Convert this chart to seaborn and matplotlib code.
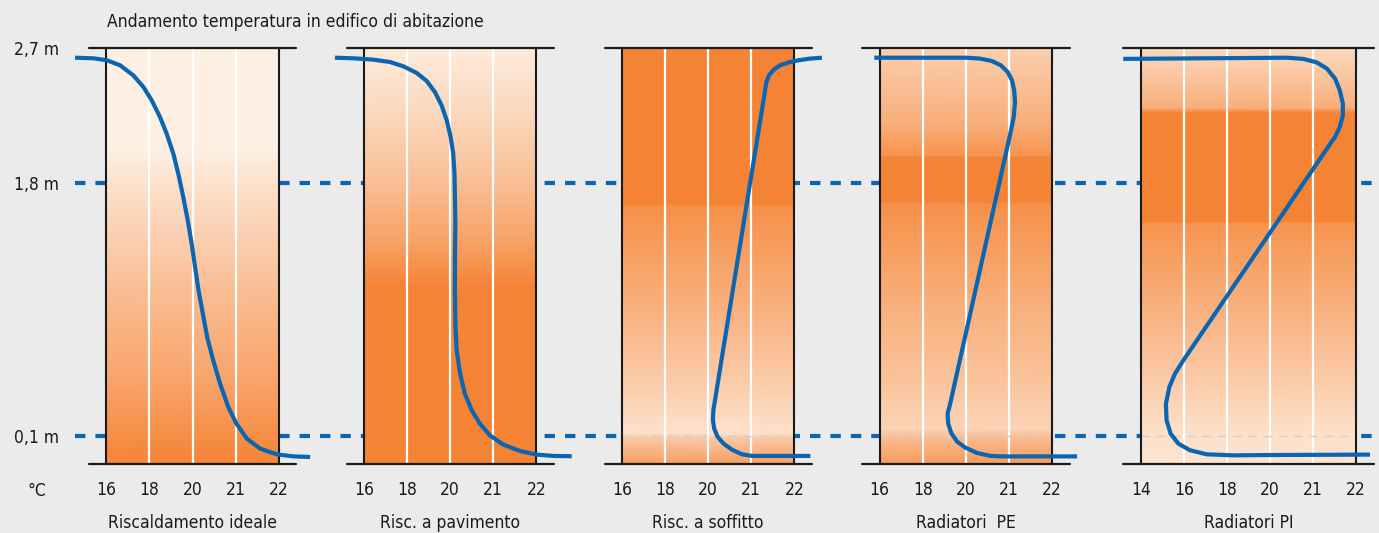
import numpy as np
import matplotlib
matplotlib.use("Agg")
import matplotlib.pyplot as plt
import seaborn as sns
from matplotlib.colors import LinearSegmentedColormap

# ---------------- data ----------------
chart_title = "Andamento temperatura in edifico di abitazione"
titles = ["Riscaldamento ideale", "Risc. a pavimento", "Risc. a soffitto",
          "Radiatori  PE", "Radiatori PI"]
ticks_std = [16, 18, 20, 21, 22]
ticks_pi = [14, 16, 18, 20, 21, 22]
height_levels = [2.7, 1.8, 0.1]
height_labels = ["2,7 m", "1,8 m", "0,1 m"]
dashed_levels = [1.8, 0.1]
unit_label = "°C"

# temperature (°C) / height (m) profiles
ideal_T = [14.55, 15.40, 16.02, 16.64, 17.25, 17.72, 18.11, 18.49, 18.80, 19.11,
           19.34, 19.57, 19.78, 19.96, 20.06, 20.14, 20.24, 20.34, 20.48, 20.64,
           20.83, 21.02, 21.26, 21.57, 21.95, 22.34, 22.73]
ideal_h = [2.637, 2.633, 2.620, 2.586, 2.519, 2.441, 2.351, 2.240, 2.128, 1.994,
           1.860, 1.704, 1.547, 1.391, 1.234, 1.078, 0.922, 0.765, 0.609, 0.452,
           0.296, 0.184, 0.084, 0.017, -0.021, -0.035, -0.039]

floor_T = [14.65, 15.51, 16.43, 17.21, 17.83, 18.44, 18.91, 19.29, 19.60, 19.84,
           20.01, 20.07, 20.10, 20.11, 20.12, 20.11, 20.11, 20.12, 20.15, 20.23,
           20.34, 20.50, 20.69, 20.92, 21.23, 21.62, 22.01, 22.39, 22.82]
floor_h = [2.637, 2.633, 2.624, 2.608, 2.579, 2.535, 2.481, 2.407, 2.318, 2.217,
           2.106, 1.994, 1.860, 1.704, 1.525, 1.301, 1.078, 0.855, 0.676, 0.519,
           0.385, 0.274, 0.184, 0.106, 0.044, 0.001, -0.023, -0.032, -0.034]

ceil_T = [22.64, 22.37, 22.10, 21.87, 21.67, 21.52, 21.41, 21.35, 21.32, 20.12,
          20.11, 20.14, 20.22, 20.36, 20.55, 20.78, 21.02, 22.37]
ceil_h = [2.637, 2.631, 2.620, 2.606, 2.586, 2.557, 2.519, 2.474, 2.418, 0.274,
          0.207, 0.151, 0.095, 0.050, 0.010, -0.021, -0.032, -0.032]

pe_T = [15.75, 20.02, 20.33, 20.60, 20.81, 20.97, 21.07, 21.12, 21.14, 21.11,
        21.03, 19.27, 19.15, 19.18, 19.32, 19.58, 19.97, 20.26, 20.57, 20.80, 22.58]
pe_h = [2.637, 2.637, 2.631, 2.615, 2.586, 2.541, 2.486, 2.418, 2.340, 2.240,
        2.128, 0.318, 0.251, 0.184, 0.122, 0.066, 0.024, -0.012, -0.032, -0.035,
        -0.035]

pi_T = [13.19, 20.39, 20.77, 21.08, 21.32, 21.51, 21.62, 21.69, 21.69, 21.62,
        21.51, 21.39, 15.98, 15.59, 15.33, 15.17, 15.20, 15.39, 15.75, 16.29,
        17.06, 18.30, 19.84, 22.32]
pi_h = [2.629, 2.637, 2.629, 2.606, 2.564, 2.497, 2.418, 2.329, 2.251, 2.173,
        2.106, 2.057, 0.609, 0.519, 0.430, 0.318, 0.207, 0.117, 0.050, 0.006,
        -0.021, -0.028, -0.026, -0.023]

# background shading: height (m) -> intensity (0 = pale, 1 = full orange)
ideal_bg_h = [-0.088, 0.5, 1.1, 1.8, 2.02, 2.7]
ideal_bg_v = [1.0, 0.68, 0.45, 0.12, 0.0, 0.0]
floor_bg_h = [-0.088, 1.1, 1.4, 1.8, 2.3, 2.7]
floor_bg_v = [1.0, 1.0, 0.72, 0.45, 0.2, 0.04]
ceil_bg_h = [-0.088, 0.09, 0.12, 0.5, 1.0, 1.64, 1.66, 2.7]
ceil_bg_v = [0.75, 0.35, 0.13, 0.35, 0.6, 0.88, 1.0, 1.0]
pe_bg_h = [-0.088, 0.10, 0.15, 0.5, 1.0, 1.66, 1.67, 1.97, 1.98, 2.2, 2.7]
pe_bg_v = [0.8, 0.45, 0.25, 0.42, 0.6, 0.88, 1.0, 1.0, 0.85, 0.6, 0.3]
pi_bg_h = [-0.088, 0.15, 0.5, 1.0, 1.53, 1.54, 2.27, 2.30, 2.7]
pi_bg_v = [0.1, 0.15, 0.35, 0.6, 0.85, 1.0, 1.0, 0.6, 0.2]

panels = [
    (titles[0], ticks_std, ideal_T, ideal_h, ideal_bg_h, ideal_bg_v, False),
    (titles[1], ticks_std, floor_T, floor_h, floor_bg_h, floor_bg_v, False),
    (titles[2], ticks_std, ceil_T, ceil_h, ceil_bg_h, ceil_bg_v, True),
    (titles[3], ticks_std, pe_T, pe_h, pe_bg_h, pe_bg_v, True),
    (titles[4], ticks_pi, pi_T, pi_h, pi_bg_h, pi_bg_v, True),
]

# ---------------- style ----------------
sns.set_theme(style="white")
plt.rcParams["font.family"] = ["DejaVu Sans"]
plt.rcParams["font.stretch"] = "condensed"

BG = "#ebebeb"
BLUE = "#0a66b2"
LINE = "#1a1a1a"
TXT = "#1a1a1a"
FS = 12.5
cmap = LinearSegmentedColormap.from_list("heat", ["#fdefe2", "#f58335"])


def fwd(t):
    t = np.asarray(t, dtype=float)
    return np.where(t <= 20, (t - 16) / 2.0, t - 18)


def inv(p):
    p = np.asarray(p, dtype=float)
    return np.where(p <= 2, 16 + 2 * p, p + 18)


W, H = 1379, 533
fig = plt.figure(figsize=(W / 100, H / 100), dpi=100, facecolor=BG)

unit_px = 43.1
ax_bottom = (H - 464.3) / H
ax_height = 416.0 / H
YLIM = (-0.088, 2.7)
panel_left_px = [106.3, 364.0, 622.0, 879.7, 1140.7]

# background axis for the dashed reference heights
ax_bg = fig.add_axes([0, ax_bottom, 1, ax_height], zorder=0)
ax_bg.set_xlim(0, 1)
ax_bg.set_ylim(*YLIM)
ax_bg.axis("off")
ax_bg.hlines(dashed_levels, 75 / W, 1372 / W, colors=BLUE, lw=3,
             linestyles=[(0, (2.5, 2.4))])

for i, (title, ticks, T, h, bgh, bgv, faint) in enumerate(panels):
    xmin, xmax = ticks[0], ticks[-1]
    wpx = float(fwd(xmax) - fwd(xmin)) * unit_px
    ax = fig.add_axes([panel_left_px[i] / W, ax_bottom, wpx / W, ax_height], zorder=1)
    ax.set_xscale("function", functions=(fwd, inv))
    ax.set_xlim(xmin, xmax)
    ax.set_ylim(*YLIM)
    ax.set_facecolor("none")

    # vertical gradient
    C = np.column_stack([bgv, bgv])
    ax.pcolormesh([xmin, xmax], bgh, C, shading="gouraud", cmap=cmap,
                  vmin=0, vmax=1, zorder=1)

    # white grid
    ax.vlines(ticks[1:-1], YLIM[0], YLIM[1], colors="white", lw=1.6, zorder=2)
    if faint:
        ax.axhline(0.1, color="#cfcfcf", lw=1, ls=(0, (6, 5)), zorder=2)

    # frame
    for s in ("top", "bottom"):
        ax.spines[s].set_visible(False)
    for s in ("left", "right"):
        ax.spines[s].set_color(LINE)
        ax.spines[s].set_linewidth(1.5)
        ax.spines[s].set_zorder(2.5)
    ext = 17.5 / wpx
    for yy in YLIM:
        ax.axhline(yy, xmin=-ext, xmax=1 + ext, color=LINE, lw=1.6,
                   clip_on=False, zorder=2.6)

    # profile
    sns.lineplot(x=T, y=h, sort=False, estimator=None, ax=ax, color=BLUE,
                 lw=3, clip_on=False, zorder=3,
                 solid_joinstyle="round", solid_capstyle="butt")

    ax.set_xticks(ticks)
    ax.set_xticklabels([str(t) for t in ticks])
    ax.tick_params(axis="x", length=0, pad=12, labelsize=FS, colors=TXT)
    ax.minorticks_off()
    if i == 0:
        ax.set_yticks(height_levels)
        ax.set_yticklabels(height_labels)
        ax.tick_params(axis="y", length=0, pad=34, labelsize=FS, colors=TXT)
        ax.text(-0.40, -0.063, unit_label, transform=ax.transAxes, ha="center",
                va="center", fontsize=FS, color=TXT)
    else:
        ax.set_yticks([])
    ax.set_xlabel("")
    ax.set_ylabel("")
    ax.text(0.5, -0.141, title, transform=ax.transAxes, ha="center",
            va="center", fontsize=FS, color=TXT)

fig.text(107 / W, 1 - 22 / H, chart_title, ha="left", va="center",
         fontsize=FS, color=TXT)

fig.savefig("out.png", dpi=100, facecolor=BG)
